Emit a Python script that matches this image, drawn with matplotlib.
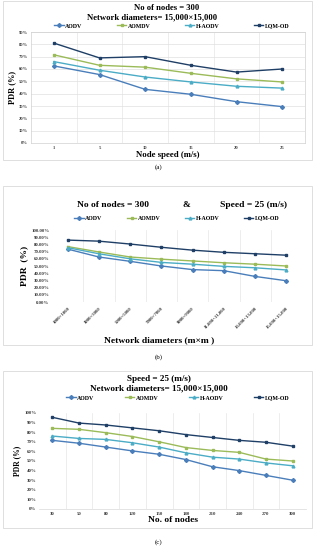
import matplotlib
matplotlib.use("Agg")
import matplotlib.pyplot as plt
from matplotlib.patches import Rectangle
from matplotlib.ticker import FuncFormatter

plt.rcParams['font.family'] = ['Liberation Serif', 'DejaVu Serif']

# ---- data ----
series = ['AODV', 'AOMDV', 'H-AODV', 'LQM-OD']

speed = ['1', '5', '10', '15', '20', '25']
a_aodv = [62.5, 55.5, 43.5, 39.5, 33.5, 29.5]
a_aomdv = [71.5, 63, 61.5, 56.5, 52, 49.5]
a_haodv = [66, 59, 53.5, 49.5, 46, 44.5]
a_lqmod = [81, 69, 70, 63, 57.5, 60]

diam = ['1000×1000', '3000×3000', '5000×5000', '7000×7000', '9000×9000',
        '11,000×11,000', '13,000×13,000', '15,000×15,000']
b_aodv = [73.5, 62.5, 56.5, 50, 45, 43.5, 35.5, 29.5]
b_aomdv = [77, 69.5, 62.5, 59.5, 57, 54.5, 52.5, 50]
b_haodv = [75.5, 67, 60, 55, 52.5, 49.5, 47.5, 44.5]
b_lqmod = [86, 84.5, 80.5, 76, 72, 69, 67, 65]

nodes = ['30', '50', '80', '120', '150', '180', '210', '240', '270', '300']
c_aodv = [71.5, 68.5, 64.5, 60.5, 57, 51.5, 44, 40, 35, 30]
c_aomdv = [84, 83, 79.5, 75.5, 70, 64, 61, 59, 52, 50]
c_haodv = [76, 73.5, 72.5, 69, 64.5, 58.5, 54, 52, 48, 45]
c_lqmod = [95.5, 89.5, 87.5, 84.5, 81.5, 77.5, 74.5, 71.5, 69.5, 65.5]

colors = ['#4a7ebb', '#9bbb59', '#4bacc6', '#1f3f66']
markers = ['D', 's', '^', 's']

W, H = 315, 550
fig = plt.figure(figsize=(W / 100, H / 100), dpi=100)


def rect(l, t, r, b):
    return [l / W, 1 - b / H, (r - l) / W, (b - t) / H]


def fy(y):
    return 1 - y / H


# panel borders
for t, b in [(1, 160), (186, 345), (371, 528)]:
    fig.patches.append(Rectangle((3 / W, 1 - b / H), 309 / W, (b - t) / H,
                                 transform=fig.transFigure, fill=False,
                                 edgecolor='#d9d9d9', lw=0.6))


def draw(ax, cats, data, ymax, fmt, tick_fs, hgrid):
    x = range(len(cats))
    for vals, name, c, m in zip(data, series, colors, markers):
        ax.plot(x, vals, color=c, lw=1.0, marker=m, ms=2, label=name)
    ax.set_xlim(-0.5, len(cats) - 0.5)
    ax.set_ylim(0, ymax)
    ax.set_yticks(range(0, ymax + 1, 10))
    ax.yaxis.set_major_formatter(FuncFormatter(fmt))
    ax.set_xticks(list(x))
    ax.set_xticklabels(cats)
    ax.set_xticks([i - 0.5 for i in range(1, len(cats))], minor=True)
    ax.grid(True, which='minor', axis='x', color='#e6e6e6', lw=0.5)
    if hgrid:
        ax.grid(True, which='major', axis='y', color='#e0e0e0', lw=0.5)
    ax.tick_params(which='both', length=0, labelsize=tick_fs, pad=2,
                   colors='#404040')
    for lab in ax.get_xticklabels() + ax.get_yticklabels():
        lab.set_fontweight('bold')
    for s in ax.spines.values():
        s.set_visible(False)


def legend(ax, x0, x1, y):
    ax.legend(loc='center', bbox_to_anchor=(x0 / W, fy(y) - 0.005,
                                            (x1 - x0) / W, 0.01),
              bbox_transform=fig.transFigure, ncol=4, mode='expand',
              frameon=False, fontsize=4.2, handlelength=1.6,
              handletextpad=0.3, borderaxespad=0,
              prop={'weight': 'bold', 'size': 4.2})


# ---- (a) ----
ax = fig.add_axes(rect(31, 32, 305, 143))
draw(ax, speed, [a_aodv, a_aomdv, a_haodv, a_lqmod], 90,
     lambda v, p: '%d%%' % v, 3.3, True)
for s in ax.spines.values():
    s.set_visible(True)
    s.set_color('#d0d0d0')
    s.set_linewidth(0.5)
ax.set_xlabel('Node speed (m/s)', fontsize=6.3, fontweight='bold', labelpad=1)
ax.set_ylabel('PDR (%)', fontsize=6, fontweight='bold', labelpad=2)
fig.text(167 / W, fy(8), 'No of nodes = 300', ha='center', va='center',
         fontsize=6.2, fontweight='bold')
fig.text(152 / W, fy(17), 'Network diameters= 15,000×15,000', ha='center',
         va='center', fontsize=6.2, fontweight='bold')
legend(ax, 52, 292, 26)
fig.text(159 / W, fy(167), '(a)', ha='center', va='center', fontsize=5)

# ---- (b) ----
ax = fig.add_axes(rect(52, 230, 302, 302))
draw(ax, diam, [b_aodv, b_aomdv, b_haodv, b_lqmod], 100,
     lambda v, p: '%.2f%%' % v, 3.5, False)
plt.setp(ax.get_xticklabels(), rotation=45, ha='right', rotation_mode='anchor')
ax.tick_params(axis='x', pad=3)
ax.set_ylabel('PDR  (%)', fontsize=6.8, fontweight='bold', labelpad=2)
fig.text(159 / W, fy(340), 'Network diameters (m×m )', ha='center',
         va='center', fontsize=6.8, fontweight='bold')
fig.text(113 / W, fy(205), 'No of nodes = 300', ha='center', va='center',
         fontsize=6.8, fontweight='bold')
fig.text(186 / W, fy(205), '&', ha='center', va='center',
         fontsize=6.8, fontweight='bold')
fig.text(253 / W, fy(205), 'Speed = 25 (m/s)', ha='center', va='center',
         fontsize=6.8, fontweight='bold')
legend(ax, 72, 282, 218)
fig.text(159 / W, fy(357), '(b)', ha='center', va='center', fontsize=5)

# ---- (c) ----
ax = fig.add_axes(rect(39, 413, 306, 509))
draw(ax, nodes, [c_aodv, c_aomdv, c_haodv, c_lqmod], 100,
     lambda v, p: '%d%%' % v, 3.5, False)
ax.spines['bottom'].set_visible(True)
ax.spines['bottom'].set_color('#d9d9d9')
ax.spines['bottom'].set_linewidth(0.5)
ax.set_xlabel('No. of nodes', fontsize=6.8, fontweight='bold', labelpad=0)
ax.set_ylabel('PDR (%)', fontsize=5.5, fontweight='bold', labelpad=2)
fig.text(159 / W, fy(379), 'Speed = 25 (m/s)', ha='center', va='center',
         fontsize=6.6, fontweight='bold')
fig.text(159 / W, fy(388), 'Network diameters= 15,000×15,000', ha='center',
         va='center', fontsize=6.6, fontweight='bold')
legend(ax, 64, 292, 398)
fig.text(159 / W, fy(542), '(c)', ha='center', va='center', fontsize=5)

fig.savefig('out.png', dpi=100)
